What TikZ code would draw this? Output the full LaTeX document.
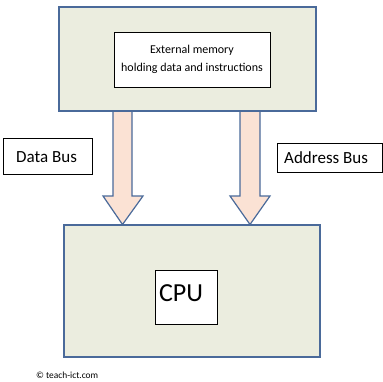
\documentclass[tikz,border=0pt]{standalone}
\usepackage{fontspec}
\setmainfont{Carlito}
\definecolor{boxfill}{HTML}{EBEDDF}
\definecolor{boxline}{HTML}{4A6A9A}
\definecolor{arrowfill}{HTML}{FBE2D4}
\begin{document}
\begin{tikzpicture}[x=1pt,y=-1pt,
  outerbox/.style={draw=boxline,fill=boxfill,line width=1.6pt},
  innerbox/.style={draw=black,fill=white,line width=0.6pt},
  label/.style={draw=black,fill=white,line width=0.5pt,inner sep=0pt},
  busarrow/.style={draw=boxline,fill=arrowfill,line width=1.2pt,line join=miter}]
\useasboundingbox (0,0) rectangle (382,382);
% memory
\node[outerbox,minimum width=257pt,minimum height=104pt,inner sep=0pt] (mem) at (187.5,59) {};
\node[innerbox,minimum width=156pt,minimum height=55pt,inner sep=0pt,align=center,font=\fontsize{12}{18}\selectfont] (memtext) at (192,59.5) {External memory\\holding data and instructions};
% cpu
\node[outerbox,minimum width=256pt,minimum height=132pt,inner sep=0pt] (cpu) at (192,291) {};
\node[innerbox,minimum width=62pt,minimum height=54pt,inner sep=0pt] (cputext) at (186,297) {};
\node[font=\fontsize{26}{30}\selectfont,inner sep=0pt] (cpul) at (181,293) {CPU};
% arrows
\draw[busarrow] (113,111) -- (132,111) -- (132,196) -- (143,196) -- (122.5,224.5) -- (103,196) -- (113,196) -- cycle;
\draw[busarrow] (240,111) -- (260,111) -- (260,196) -- (270,196) -- (250,224.5) -- (230,196) -- (240,196) -- cycle;
\node[outerbox,minimum width=257pt,minimum height=104pt,inner sep=0pt,fill=none] at (187.5,59) {};
% labels
\node[label,minimum width=89pt,minimum height=36pt] (data) at (47.5,156) {};
\node[anchor=west,font=\fontsize{17}{20}\selectfont,inner sep=0pt] (datal) at (16,157) {Data Bus};
\node[label,minimum width=105pt,minimum height=29pt] (addr) at (329.5,157.5) {};
\node[anchor=west,font=\fontsize{17}{20}\selectfont,inner sep=0pt] (addrl) at (284,157.5) {Address Bus};
% copyright
\node[anchor=west,font=\fontsize{9.4}{11}\selectfont,inner sep=0pt] (copy) at (36,375.5) {© teach-ict.com};
\end{tikzpicture}
\end{document}
